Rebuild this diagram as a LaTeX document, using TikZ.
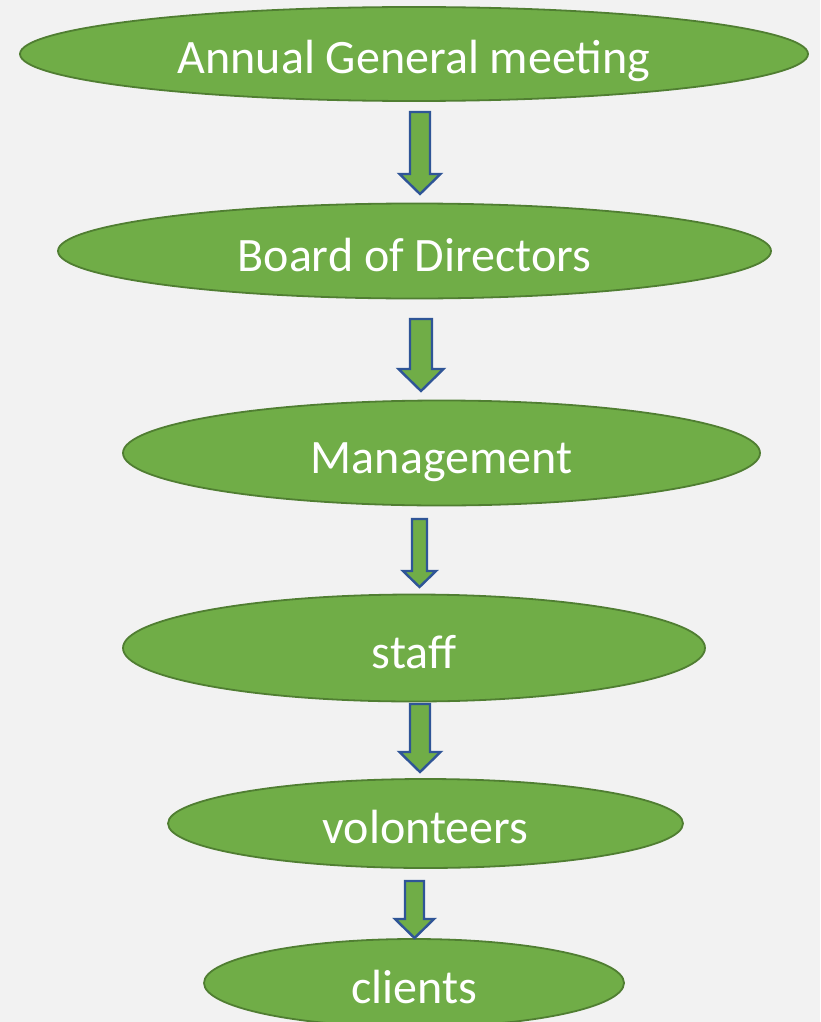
\documentclass[tikz,border=0pt]{standalone}
\usepackage{fontspec}
\setmainfont{Carlito}
\usetikzlibrary{shapes.geometric}
\definecolor{bgc}{HTML}{F2F2F2}
\definecolor{ellfill}{HTML}{70AD47}
\definecolor{elldraw}{HTML}{507E32}
\definecolor{arrdraw}{HTML}{2F5597}
\tikzset{
  ell/.style={ellipse, fill=ellfill, draw=elldraw, line width=1.8pt, inner sep=0pt,
    text=white, font=\fontsize{48}{57}\selectfont, text height=40pt, text depth=0pt},
  blockarr/.style={fill=ellfill, draw=arrdraw, line width=2.4pt, line join=miter},
}
% #1 cx, #2 top, #3 head start, #4 tip, #5 shaft width, #6 head width
\newcommand\blockarrowdraw[6]{%
  \draw[blockarr] ({#1-#5/2},#2) -- ({#1+#5/2},#2) -- ({#1+#5/2},#3) -- ({#1+#6/2},#3)
    -- (#1,#4) -- ({#1-#6/2},#3) -- ({#1-#5/2},#3) -- cycle;}
\begin{document}
\begin{tikzpicture}[x=1pt,y=-1pt]
\useasboundingbox (0,0) rectangle (820,1022);
\clip (0,0) rectangle (820,1022);
\fill[bgc] (0,0) rectangle (820,1022);

\node[ell, minimum width=788pt, minimum height=94pt] (agm) at (414,54) {Annual General meeting};
\node[ell, minimum width=713pt, minimum height=95pt] (board) at (414.5,251) {Board of Directors};
\node[ell, minimum width=637pt, minimum height=105pt] (mgmt) at (441.5,453) {Management};
\node[ell, minimum width=582pt, minimum height=107pt] (staff) at (414,648) {staff};
\node[ell, minimum width=515pt, minimum height=89pt] (vol) at (425.5,823.5) {volonteers};
\node[ell, minimum width=420pt, minimum height=88pt] (cli) at (414,983) {clients};

\blockarrowdraw{420}{112}{174}{194}{20}{41}
\blockarrowdraw{421}{319}{369}{391}{22}{45}
\blockarrowdraw{419.5}{519}{571}{587}{15}{33}
\blockarrowdraw{420}{704}{752}{772}{20}{41}
\blockarrowdraw{414.5}{881}{919}{938}{19}{39}
\end{tikzpicture}
\end{document}
